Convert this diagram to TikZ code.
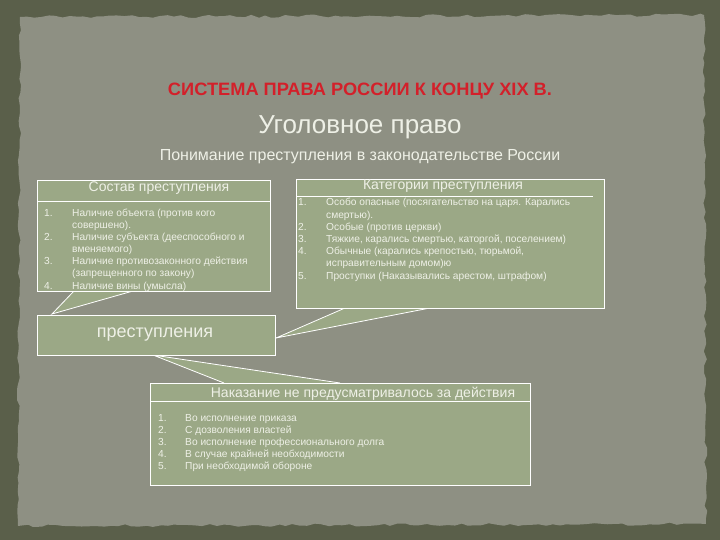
\documentclass[tikz,border=0pt]{standalone}
\usepackage{fontspec}
\setmainfont{Liberation Sans}
\usetikzlibrary{decorations.pathmorphing}
\definecolor{frame}{HTML}{5A5F4A}
\definecolor{paper}{HTML}{8E9083}
\definecolor{sage}{HTML}{9BA886}
\definecolor{txt}{HTML}{EEF0E6}
\definecolor{titlered}{HTML}{D3202A}
\newcommand{\itemfont}{\fontsize{10.2}{12.2}\selectfont}
\begin{document}
\begin{tikzpicture}[x=1pt,y=-1pt,
  box/.style={draw=white, fill=sage, line width=0.8pt, anchor=north west, inner sep=0pt},
  rule/.style={draw=white, line width=0.8pt},
  wtext/.style={text=txt, inner sep=0pt},
  list/.style={text=txt, inner sep=0pt, anchor=base west, font=\itemfont},
  wedge/.style={fill=sage},
  wedgeline/.style={draw=white, line width=0.8pt}]
\useasboundingbox (0,0) rectangle (720,540);
\fill[frame] (0,0) rectangle (720,540);
\pgfmathsetseed{7}
\fill[paper, decorate, decoration={random steps, segment length=7pt, amplitude=1.5pt}]
  (20,17) -- (704,15) -- (706,524) -- (18,526) -- cycle;

% titles
\node[text=titlered, inner sep=0pt] (title) at (360,91)
  {\resizebox{384pt}{12.5pt}{\bfseries СИСТЕМА ПРАВА РОССИИ К КОНЦУ XIX В.}};
\node[wtext, font=\fontsize{26}{30}\selectfont] (sub) at (360,127) {Уголовное право};
\node[wtext, font=\fontsize{16}{19}\selectfont] (sub2) at (360,157) {Понимание преступления в законодательстве России};

% wedges (callout pointers)
\coordinate (w1a) at (52,314);
\coordinate (w1b) at (74,291);
\coordinate (w1c) at (133,291);
\coordinate (w2a) at (276,338);
\coordinate (w2b) at (345,308);
\coordinate (w2c) at (430,308);
\coordinate (w3a) at (153,355);
\coordinate (w3b) at (224,383);
\coordinate (w3c) at (340,383);
\fill[wedge] (w1a) -- (w1b) -- (w1c) -- cycle;
\fill[wedge] (w2a) -- (w2b) -- (w2c) -- cycle;
\fill[wedge] (w3a) -- (w3b) -- (w3c) -- cycle;
\draw[wedgeline] (w1b) -- (w1a) -- (w1c);
\draw[wedgeline] (w2b) -- (w2a) -- (w2c);
\draw[wedgeline] (w3b) -- (w3a) -- (w3c);

% Состав
\node[box, minimum width=233pt, minimum height=111pt] (sostav) at (37,180) {};
\node[wtext, font=\fontsize{14}{16}\selectfont] (sostavT) at (159,188) {Состав преступления};
\draw[rule] (37,201) -- (270,201);
\node[list] (sostavL) at (44,216) {\begin{tabular}[t]{@{}p{28pt}@{}l@{}}
1. & Наличие объекта (против кого\\
   & совершено).\\
2. & Наличие субъекта (дееспособного и\\
   & вменяемого)\\
3. & Наличие противозаконного действия\\
   & (запрещенного по закону)\\
4. & Наличие вины (умысла)
\end{tabular}};

% Категории
\node[box, minimum width=308pt, minimum height=129pt] (kat) at (296,179) {};
\node[wtext, font=\fontsize{14}{16}\selectfont] (katT) at (443,186) {Категории преступления};
\draw[rule] (296,196) -- (593,196);
\node[list] (katL) at (298,206) {\begin{tabular}[t]{@{}p{28pt}@{}l@{}}
1. & Особо опасные (посягательство на царя. Карались\\
   & смертью).\\
2. & Особые (против церкви)\\
3. & Тяжкие, карались смертью, каторгой, поселением)\\
4. & Обычные (карались крепостью, тюрьмой,\\
   & исправительным домом)ю\\
5. & Проступки (Наказывались арестом, штрафом)
\end{tabular}};

% преступления
\node[box, minimum width=238pt, minimum height=40pt] (prest) at (37,315) {};
\node[wtext, font=\fontsize{18}{21}\selectfont] (prestT) at (155,335) {преступления};

% Наказание
\node[box, minimum width=380pt, minimum height=102pt] (nak) at (150,383) {};
\node[wtext, font=\fontsize{14}{16}\selectfont] (nakT) at (363,394) {Наказание не предусматривалось за действия};
\draw[rule] (150,401) -- (530,401);
\node[list] (nakL) at (158,421) {\begin{tabular}[t]{@{}p{27pt}@{}l@{}}
1. & Во исполнение приказа\\
2. & С дозволения властей\\
3. & Во исполнение профессионального долга\\
4. & В случае крайней необходимости\\
5. & При необходимой обороне
\end{tabular}};
\end{tikzpicture}
\end{document}
